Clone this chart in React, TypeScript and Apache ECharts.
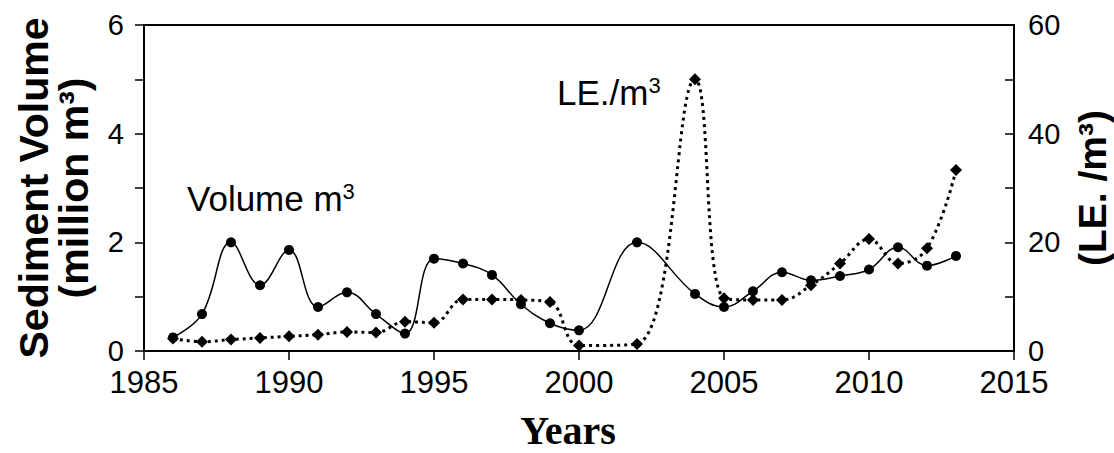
import React, { useEffect, useRef } from "react";
import * as echarts from "echarts";

const volumeYears = [1986, 1987, 1988, 1989, 1990, 1991, 1992, 1993, 1994, 1995, 1996, 1997, 1998, 1999, 2000, 2002, 2004, 2005, 2006, 2007, 2008, 2009, 2010, 2011, 2012, 2013];
const volumeValues = [0.25, 0.68, 2.0, 1.21, 1.86, 0.81, 1.08, 0.68, 0.32, 1.7, 1.61, 1.4, 0.86, 0.51, 0.38, 2.0, 1.05, 0.81, 1.1, 1.45, 1.3, 1.38, 1.5, 1.91, 1.57, 1.75];

const leYears = [1986, 1987, 1988, 1989, 1990, 1991, 1992, 1993, 1994, 1995, 1996, 1997, 1998, 1999, 2000, 2002, 2004, 2005, 2006, 2007, 2008, 2009, 2010, 2011, 2012, 2013];
const leValues = [2.3, 1.7, 2.1, 2.4, 2.7, 3.0, 3.5, 3.4, 5.4, 5.2, 9.5, 9.5, 9.4, 9.0, 1.0, 1.3, 50, 9.7, 9.4, 9.4, 12.1, 16.1, 20.6, 16.1, 18.9, 33.3];

const xTicks = { min: 1985, max: 2015, interval: 5 };
const leftTicks = { min: 0, max: 6, interval: 1, labelEvery: 2 };
const rightTicks = { min: 0, max: 60, interval: 10, labelEvery: 20 };

const SANS = "Liberation Sans, Arial, sans-serif";
const SERIF = "Liberation Serif, Times New Roman, serif";

export default function App() {
  const ref = useRef<HTMLDivElement>(null);
  useEffect(() => {
    if (!ref.current) return;
    const chart = echarts.init(ref.current, null, { renderer: "svg" });
    const axisLineStyle = { color: "#000", width: 2 };
    const supRich = {
      sup: { fontFamily: SANS, fontSize: 22, verticalAlign: "top", color: "#000", padding: [0, 0, 14, 0] },
    };
    chart.setOption({
      animation: false,
      backgroundColor: "#fff",
      grid: {
        left: 144,
        right: 100,
        top: 25,
        bottom: 102,
        show: true,
        borderColor: "#000",
        borderWidth: 2,
        backgroundColor: "transparent",
        containLabel: false,
        outerBoundsMode: "none",
      },
      xAxis: {
        type: "value",
        min: xTicks.min,
        max: xTicks.max,
        interval: xTicks.interval,
        name: "Years",
        nameLocation: "middle",
        nameGap: 62,
        nameTextStyle: { fontFamily: SERIF, fontWeight: "bold", fontSize: 40, lineHeight: 34, color: "#000", padding: [0, 22, 0, 0] },
        axisLine: { lineStyle: axisLineStyle },
        axisTick: { show: true, inside: false, length: 9, lineStyle: { color: "#000", width: 1.5 } },
        axisLabel: { fontFamily: SANS, fontSize: 31, color: "#000", margin: 16, formatter: (v: number) => String(v) },
        splitLine: { show: false },
      },
      yAxis: [
        {
          type: "value",
          min: leftTicks.min,
          max: leftTicks.max,
          interval: leftTicks.interval,
          name: "Sediment Volume\n(million m³)",
          nameLocation: "middle",
          nameRotate: 90,
          nameGap: 50,
          nameTextStyle: { fontFamily: SANS, fontWeight: "bold", fontSize: 41, color: "#000", lineHeight: 40 },
          axisLine: { show: true, lineStyle: axisLineStyle },
          axisTick: { show: true, inside: false, length: 9, lineStyle: { color: "#000", width: 1.5 } },
          axisLabel: {
            fontFamily: SANS,
            fontSize: 29,
            color: "#000",
            margin: 20,
            formatter: (v: number) => (v % leftTicks.labelEvery === 0 ? String(v) : ""),
          },
          splitLine: { show: false },
        },
        {
          type: "value",
          min: rightTicks.min,
          max: rightTicks.max,
          interval: rightTicks.interval,
          position: "right",
          name: "(LE. /m³)",
          nameLocation: "middle",
          nameRotate: 90,
          nameGap: 60,
          nameTextStyle: { fontFamily: SANS, fontWeight: "bold", fontSize: 39, lineHeight: 36, color: "#000" },
          axisLine: { show: true, lineStyle: axisLineStyle },
          axisTick: { show: true, inside: true, length: 9, lineStyle: { color: "#000", width: 1.5 } },
          axisLabel: {
            fontFamily: SANS,
            fontSize: 29,
            color: "#000",
            margin: 14,
            formatter: (v: number) => (v % rightTicks.labelEvery === 0 ? String(v) : ""),
          },
          splitLine: { show: false },
        },
      ],
      graphic: [
        {
          type: "text",
          left: 187,
          top: 180,
          style: {
            text: "Volume m{sup|3}",
            font: `35px ${SANS}`,
            fill: "#000",
            rich: supRich,
          },
        },
        {
          type: "text",
          left: 557,
          top: 74,
          style: {
            text: "LE./m{sup|3}",
            font: `35px ${SANS}`,
            fill: "#000",
            rich: supRich,
          },
        },
      ],
      series: [
        {
          name: "Volume m³",
          type: "line",
          yAxisIndex: 0,
          smooth: 0.4,
          data: volumeYears.map((y, i) => [y, volumeValues[i]]),
          symbol: "circle",
          symbolSize: 10,
          itemStyle: { color: "#000" },
          lineStyle: { color: "#000", width: 1.5 },
          z: 3,
        },
        {
          name: "LE./m³",
          type: "line",
          yAxisIndex: 1,
          smooth: 0.4,
          data: leYears.map((y, i) => [y, leValues[i]]),
          symbol: "diamond",
          symbolSize: 12,
          itemStyle: { color: "#000" },
          lineStyle: { color: "#000", width: 3, type: [3, 4] },
          z: 4,
        },
      ],
    });
    return () => chart.dispose();
  }, []);
  return <div ref={ref} style={{ width: 1114, height: 453, position: "absolute", left: 0, top: 0 }} />;
}
